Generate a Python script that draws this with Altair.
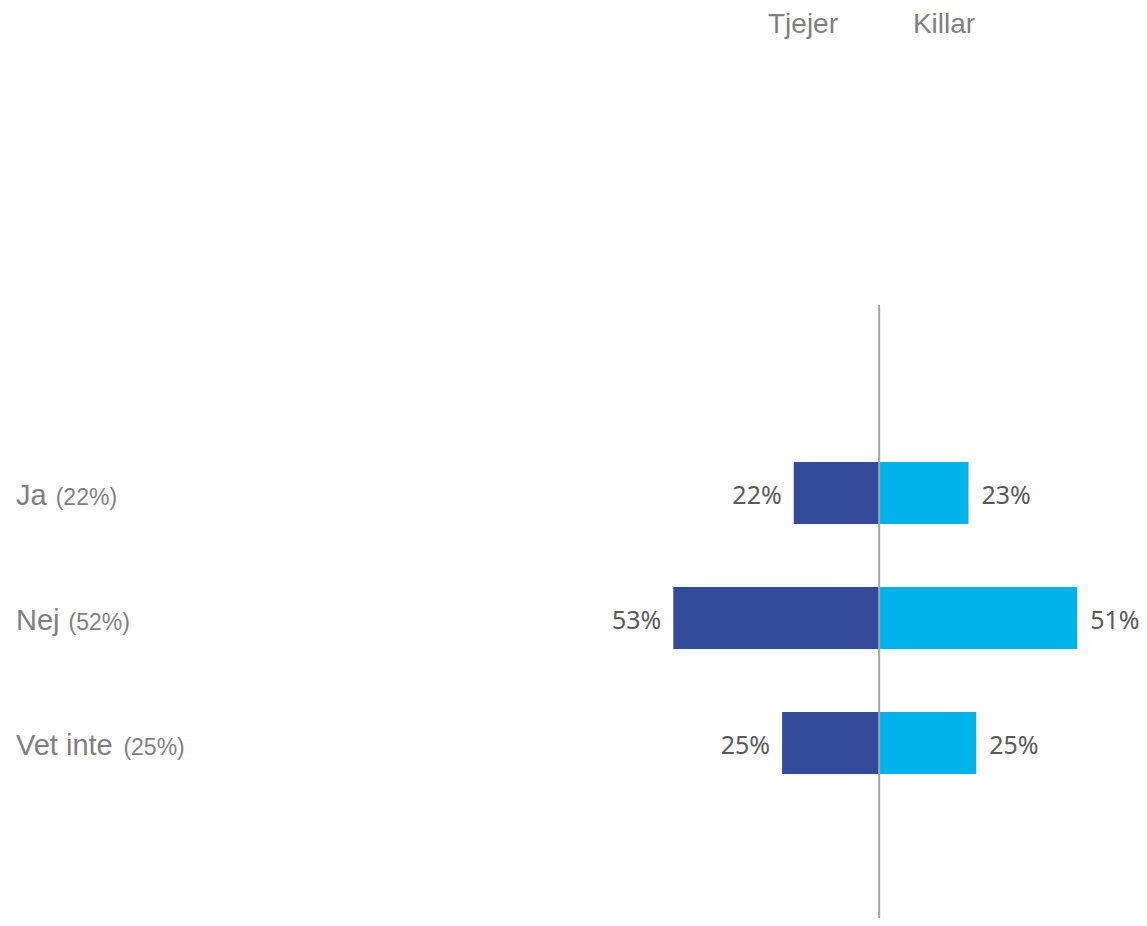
import altair as alt
import pandas as pd

categories = ["Ja", "Nej", "Vet inte"]
totals = ["(22%)", "(52%)", "(25%)"]
groups = ["Tjejer", "Killar"]
tjejer = [22, 53, 25]
killar = [23, 51, 25]

DARK = "#344A9A"
CYAN = "#00B4EB"
GREY = "#7F7F7F"
VAL_GREY = "#595959"

W, H = 1131, 910

rows = []
for c, tot, t, k in zip(categories, totals, tjejer, killar):
    rows.append({"cat": c, "group": "Tjejer", "x0": -t, "x1": 0, "label": f"{t}%"})
    rows.append({"cat": c, "group": "Killar", "x0": 0, "x1": k, "label": f"{k}%"})
df = pd.DataFrame(rows)
cat_df = pd.DataFrame({"cat": categories, "total": totals})

xscale = alt.Scale(domain=[-224.3, 66.9], range=[0, W], nice=False, zero=False)
yscale = alt.Scale(domain=categories, range=[422.5, 797.5], paddingInner=0.504, paddingOuter=0.252)

base = alt.Chart(df)

bars = base.mark_bar().encode(
    x=alt.X("x0:Q", scale=xscale, axis=None),
    x2="x1:Q",
    y=alt.Y("cat:N", scale=yscale, axis=None),
    color=alt.Color("group:N", scale=alt.Scale(domain=groups, range=[DARK, CYAN]), legend=None),
)

lab_left = base.transform_filter(alt.datum.group == "Tjejer").mark_text(
    align="right", baseline="alphabetic", dx=-12, dy=11, fontSize=25, font="Noto Sans", color=VAL_GREY
).encode(
    x=alt.X("x0:Q", scale=xscale, axis=None),
    y=alt.Y("cat:N", scale=yscale, axis=None),
    text="label:N",
)

lab_right = base.transform_filter(alt.datum.group == "Killar").mark_text(
    align="left", baseline="alphabetic", dx=13, dy=11, fontSize=25, font="Noto Sans", color=VAL_GREY
).encode(
    x=alt.X("x1:Q", scale=xscale, axis=None),
    y=alt.Y("cat:N", scale=yscale, axis=None),
    text="label:N",
)

rule = alt.Chart(pd.DataFrame({"x": [0]})).mark_rule(color="#A6A6A6", strokeWidth=2).encode(
    x=alt.X("x:Q", scale=xscale, axis=None),
    y=alt.value(297),
    y2=alt.value(H),
)

# category labels (main part)
MAIN_SIZE = 29
SUB_SIZE = 23
LEFT = 8
cat_main = alt.Chart(cat_df).mark_text(
    align="left", baseline="alphabetic", dy=12, fontSize=MAIN_SIZE, font="Liberation Sans", color=GREY
).encode(
    x=alt.value(LEFT),
    y=alt.Y("cat:N", scale=yscale, axis=None),
    text="cat:N",
)

# Arial / Liberation Sans advance widths (em)
CW = {"J": 0.5, "a": 0.556, " ": 0.278, "N": 0.722, "e": 0.556, "j": 0.222,
      "V": 0.667, "t": 0.278, "i": 0.222, "n": 0.556}

sub_layers = []
for c, tot in zip(categories, totals):
    w = sum(CW.get(ch, 0.556) for ch in c + " ") * MAIN_SIZE + 1
    sub_layers.append(
        alt.Chart(pd.DataFrame({"cat": [c], "total": [tot]})).mark_text(
            align="left", baseline="alphabetic", dy=12, fontSize=SUB_SIZE,
            font="Liberation Sans", color=GREY
        ).encode(
            x=alt.value(LEFT + w),
            y=alt.Y("cat:N", scale=yscale, axis=None),
            text="total:N",
        )
    )

hdr_t = alt.Chart(pd.DataFrame({"g": ["Tjejer"]})).mark_text(
    align="center", baseline="alphabetic", fontSize=28, font="Liberation Sans", color=GREY
).encode(x=alt.value(795), y=alt.value(25), text="g:N")
hdr_k = alt.Chart(pd.DataFrame({"g": ["Killar"]})).mark_text(
    align="center", baseline="alphabetic", fontSize=28, font="Liberation Sans", color=GREY
).encode(x=alt.value(936), y=alt.value(25), text="g:N")

chart = alt.layer(
    bars, rule, lab_left, lab_right, cat_main, *sub_layers, hdr_t, hdr_k
).properties(
    width=W, height=H, autosize=alt.AutoSizeParams(type="none"), padding=0, background="white"
).configure_view(stroke=None)

chart.save("out.html", embed_options={"renderer": "svg", "actions": False})
